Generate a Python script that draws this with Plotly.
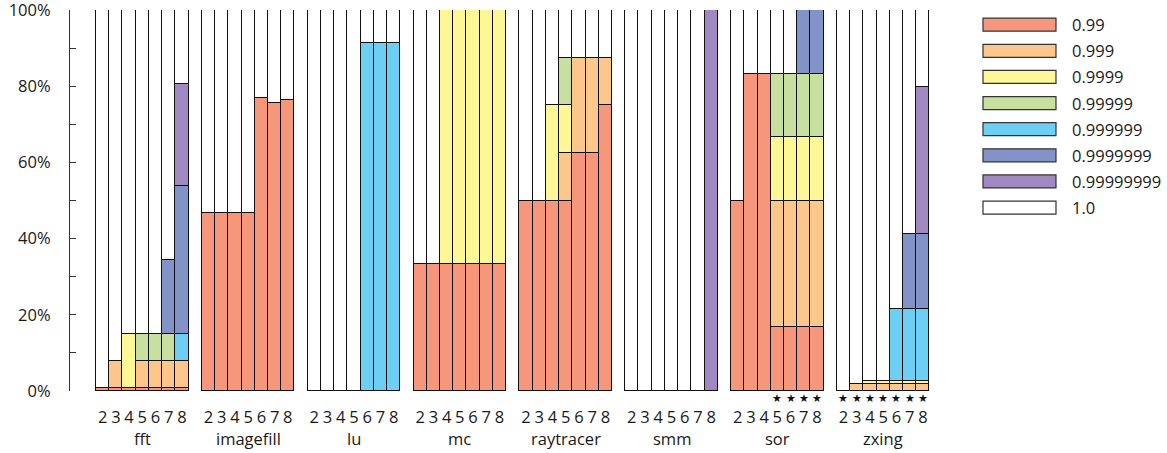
import plotly.graph_objects as go

# ---------------- data ----------------
benchmarks = ["fft", "imagefill", "lu", "mc", "raytracer", "smm", "sor", "zxing"]
bar_labels = ["2", "3", "4", "5", "6", "7", "8"]
levels = ["0.99", "0.999", "0.9999", "0.99999", "0.999999", "0.9999999", "0.99999999", "1.0"]

# segment fractions per level, 7 bars (2..8) per benchmark, in benchmark order
s_099 = [
    0.008, 0.008, 0.008, 0.008, 0.008, 0.008, 0.008,      # fft
    0.468, 0.468, 0.468, 0.468, 0.768, 0.755, 0.764,      # imagefill
    0, 0, 0, 0, 0, 0, 0,                                  # lu
    0.333, 0.333, 0.333, 0.333, 0.333, 0.333, 0.333,      # mc
    0.5, 0.5, 0.5, 0.5, 0.625, 0.625, 0.75,               # raytracer
    0, 0, 0, 0, 0, 0, 0,                                  # smm
    0.5, 0.833, 0.833, 0.167, 0.167, 0.167, 0.167,        # sor
    0, 0, 0, 0, 0, 0, 0,                                  # zxing
]
s_0999 = [
    0, 0.070, 0, 0.070, 0.070, 0.070, 0.070,
    0, 0, 0, 0, 0, 0, 0,
    0, 0, 0, 0, 0, 0, 0,
    0, 0, 0, 0, 0, 0, 0,
    0, 0, 0, 0.125, 0.25, 0.25, 0.125,
    0, 0, 0, 0, 0, 0, 0,
    0, 0, 0, 0.333, 0.333, 0.333, 0.333,
    0, 0.018, 0.018, 0.018, 0.018, 0.018, 0.018,
]
s_09999 = [
    0, 0, 0.141, 0, 0, 0, 0,
    0, 0, 0, 0, 0, 0, 0,
    0, 0, 0, 0, 0, 0, 0,
    0, 0, 0.667, 0.667, 0.667, 0.667, 0.667,
    0, 0, 0.25, 0.125, 0, 0, 0,
    0, 0, 0, 0, 0, 0, 0,
    0, 0, 0, 0.167, 0.167, 0.167, 0.167,
    0, 0, 0.008, 0.008, 0.008, 0.008, 0.008,
]
s_099999 = [
    0, 0, 0, 0.072, 0.072, 0.072, 0,
    0, 0, 0, 0, 0, 0, 0,
    0, 0, 0, 0, 0, 0, 0,
    0, 0, 0, 0, 0, 0, 0,
    0, 0, 0, 0.125, 0, 0, 0,
    0, 0, 0, 0, 0, 0, 0,
    0, 0, 0, 0.166, 0.166, 0.166, 0.166,
    0, 0, 0, 0, 0, 0, 0,
]
s_0999999 = [
    0, 0, 0, 0, 0, 0, 0.072,
    0, 0, 0, 0, 0, 0, 0,
    0, 0, 0, 0, 0.914, 0.914, 0.914,
    0, 0, 0, 0, 0, 0, 0,
    0, 0, 0, 0, 0, 0, 0,
    0, 0, 0, 0, 0, 0, 0,
    0, 0, 0, 0, 0, 0, 0,
    0, 0, 0, 0, 0.19, 0.19, 0.19,
]
s_09999999 = [
    0, 0, 0, 0, 0, 0.193, 0.389,
    0, 0, 0, 0, 0, 0, 0,
    0, 0, 0, 0, 0, 0, 0,
    0, 0, 0, 0, 0, 0, 0,
    0, 0, 0, 0, 0, 0, 0,
    0, 0, 0, 0, 0, 0, 0,
    0, 0, 0, 0, 0, 0.167, 0.167,
    0, 0, 0, 0, 0, 0.196, 0.196,
]
s_099999999 = [
    0, 0, 0, 0, 0, 0, 0.267,
    0, 0, 0, 0, 0, 0, 0,
    0, 0, 0, 0, 0, 0, 0,
    0, 0, 0, 0, 0, 0, 0,
    0, 0, 0, 0, 0, 0, 0,
    0, 0, 0, 0, 0, 0, 1.0,
    0, 0, 0, 0, 0, 0, 0,
    0, 0, 0, 0, 0, 0, 0.385,
]
# bars marked with a star underneath
starred = [
    0, 0, 0, 0, 0, 0, 0,
    0, 0, 0, 0, 0, 0, 0,
    0, 0, 0, 0, 0, 0, 0,
    0, 0, 0, 0, 0, 0, 0,
    0, 0, 0, 0, 0, 0, 0,
    0, 0, 0, 0, 0, 0, 0,
    0, 0, 0, 1, 1, 1, 1,
    1, 1, 1, 1, 1, 1, 1,
]

series = [s_099, s_0999, s_09999, s_099999, s_0999999, s_09999999, s_099999999]
s_10 = [max(0.0, 1.0 - sum(col)) for col in zip(*series)]
series.append(s_10)

colors = ["#f6967a", "#fdc68b", "#fdf796", "#c7e09f", "#6ccff3", "#8293c8", "#a089c1", "#ffffff"]

# ---------------- figure ----------------
W, H = 1167, 453
ML, MR, MT, MB = 70, 237, 10, 62
PW, PH = W - ML - MR, H - MT - MB
FONT = "Open Sans"
FS = 16.5
TXT = "#1a1a1a"

nb = len(bar_labels)
xpos = [g * (nb + 1) + i for g in range(len(benchmarks)) for i in range(nb)]
xticktext = bar_labels * len(benchmarks)

fig = go.Figure()
for lvl, vals, col in zip(levels, series, colors):
    fig.add_trace(go.Bar(
        x=xpos, y=vals, name=lvl, width=1.0,
        marker=dict(color=col, line=dict(color="#111111", width=1.3)),
        showlegend=False,
    ))

# x-range so that bar unit is ~13.23 px and first bar starts 26 px right of axis
unit = 13.23
x0 = -0.5 - 26 / unit
x1 = x0 + PW / unit

fig.update_layout(
    width=W, height=H,
    margin=dict(l=ML, r=MR, t=MT, b=MB, pad=0, autoexpand=False),
    barmode="stack", bargap=0,
    plot_bgcolor="white", paper_bgcolor="white",
    font=dict(family=FONT, size=FS, color=TXT),
    showlegend=False,
)
fig.update_xaxes(
    range=[x0, x1], tickmode="array", tickvals=xpos, ticktext=xticktext,
    showline=False, showgrid=False, zeroline=False, ticks="", automargin=False,
    ticklabelstandoff=14, ticklabeloverflow="allow",
    tickfont=dict(family=FONT, size=FS, color=TXT),
)
fig.update_yaxes(
    range=[0, 1], tickmode="linear", tick0=0, dtick=0.2, tickformat=".0%",
    showline=True, linecolor="#333333", linewidth=1.2, automargin=False,
    ticks="inside", ticklen=6, tickwidth=1.2, tickcolor="#333333",
    minor=dict(ticks="inside", dtick=0.1, ticklen=6, tickwidth=1.2, tickcolor="#333333"),
    showgrid=False, zeroline=False, ticklabeloverflow="allow",
    ticklabelstandoff=15, tickfont=dict(family=FONT, size=FS, color=TXT),
)

def px_to_paper_x(px):
    return (px - ML) / PW

def px_to_paper_y(py):
    return (MT + PH - py) / PH

# stars below selected bars (x through the data axis)
for x, s in zip(xpos, starred):
    if s:
        fig.add_annotation(
            x=x, y=px_to_paper_y(398), xref="x", yref="paper", text="★",
            showarrow=False, xanchor="center", yanchor="middle", borderpad=0,
            font=dict(family="DejaVu Sans", size=11, color="#111111"),
        )

# group names
for g, name in enumerate(benchmarks):
    fig.add_annotation(
        x=g * (nb + 1) + (nb - 1) / 2, y=px_to_paper_y(438),
        xref="x", yref="paper", text=name, showarrow=False,
        font=dict(family=FONT, size=FS, color=TXT),
        xanchor="center", yanchor="middle",
    )

# manual legend (wide swatches)
for k, (lvl, col) in enumerate(zip(levels, colors)):
    cy = 24.7 + 26.12 * k
    fig.add_shape(
        type="rect", xref="paper", yref="paper",
        x0=px_to_paper_x(983), x1=px_to_paper_x(1056),
        y0=px_to_paper_y(cy + 6.5), y1=px_to_paper_y(cy - 6.5),
        fillcolor=col, line=dict(color="#333333", width=1.2),
    )
    fig.add_annotation(
        x=px_to_paper_x(1070), y=px_to_paper_y(cy), xref="paper", yref="paper",
        text=lvl, showarrow=False, xanchor="left", yanchor="middle",
        font=dict(family=FONT, size=FS, color=TXT),
    )

fig.write_html(
    "out.html",
    config={"displayModeBar": False},
    post_script="document.body.style.margin='0';document.body.style.overflow='hidden';",
)
